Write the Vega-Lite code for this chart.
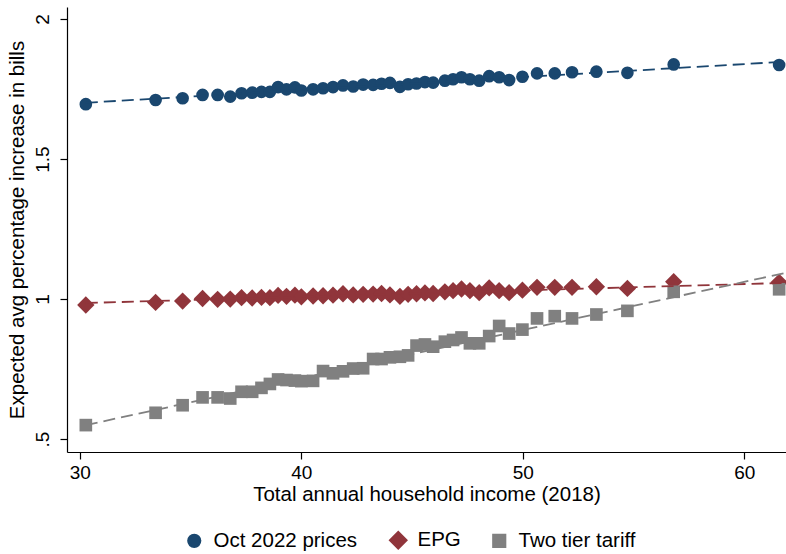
{
  "$schema": "https://vega.github.io/schema/vega-lite/v6.json",
  "width": 719,
  "height": 445,
  "autosize": {"type": "none"},
  "padding": {"left": 67, "top": 7, "right": 0, "bottom": 102},
  "background": "white",
  "config": {
    "view": {"stroke": null},
    "font": "Liberation Sans",
    "axis": {
      "grid": false,
      "domainColor": "black",
      "domainWidth": 1.2,
      "tickColor": "black",
      "tickWidth": 1.2,
      "tickSize": 7,
      "labelColor": "black",
      "titleColor": "black",
      "titleFontWeight": "normal",
      "labelFont": "Liberation Sans",
      "titleFont": "Liberation Sans"
    }
  },
  "datasets": {
    "bins": [
      {"income": 30.27, "Oct 2022 prices": 1.696, "EPG": 0.979, "Two tier tariff": 0.550},
      {"income": 33.42, "Oct 2022 prices": 1.711, "EPG": 0.988, "Two tier tariff": 0.594},
      {"income": 34.64, "Oct 2022 prices": 1.717, "EPG": 0.993, "Two tier tariff": 0.621},
      {"income": 35.54, "Oct 2022 prices": 1.729, "EPG": 1.002, "Two tier tariff": 0.649},
      {"income": 36.22, "Oct 2022 prices": 1.729, "EPG": 0.999, "Two tier tariff": 0.649},
      {"income": 36.79, "Oct 2022 prices": 1.723, "EPG": 1.000, "Two tier tariff": 0.645},
      {"income": 37.30, "Oct 2022 prices": 1.735, "EPG": 1.005, "Two tier tariff": 0.669},
      {"income": 37.78, "Oct 2022 prices": 1.737, "EPG": 1.004, "Two tier tariff": 0.669},
      {"income": 38.20, "Oct 2022 prices": 1.740, "EPG": 1.006, "Two tier tariff": 0.683},
      {"income": 38.58, "Oct 2022 prices": 1.740, "EPG": 1.005, "Two tier tariff": 0.697},
      {"income": 38.95, "Oct 2022 prices": 1.757, "EPG": 1.013, "Two tier tariff": 0.713},
      {"income": 39.33, "Oct 2022 prices": 1.749, "EPG": 1.010, "Two tier tariff": 0.711},
      {"income": 39.71, "Oct 2022 prices": 1.756, "EPG": 1.014, "Two tier tariff": 0.709},
      {"income": 40.00, "Oct 2022 prices": 1.745, "EPG": 1.008, "Two tier tariff": 0.707},
      {"income": 40.53, "Oct 2022 prices": 1.749, "EPG": 1.011, "Two tier tariff": 0.708},
      {"income": 40.98, "Oct 2022 prices": 1.753, "EPG": 1.012, "Two tier tariff": 0.743},
      {"income": 41.43, "Oct 2022 prices": 1.757, "EPG": 1.014, "Two tier tariff": 0.735},
      {"income": 41.88, "Oct 2022 prices": 1.763, "EPG": 1.019, "Two tier tariff": 0.742},
      {"income": 42.34, "Oct 2022 prices": 1.759, "EPG": 1.015, "Two tier tariff": 0.752},
      {"income": 42.79, "Oct 2022 prices": 1.766, "EPG": 1.017, "Two tier tariff": 0.753},
      {"income": 43.24, "Oct 2022 prices": 1.765, "EPG": 1.018, "Two tier tariff": 0.786},
      {"income": 43.62, "Oct 2022 prices": 1.769, "EPG": 1.020, "Two tier tariff": 0.786},
      {"income": 44.00, "Oct 2022 prices": 1.772, "EPG": 1.015, "Two tier tariff": 0.792},
      {"income": 44.45, "Oct 2022 prices": 1.758, "EPG": 1.010, "Two tier tariff": 0.794},
      {"income": 44.82, "Oct 2022 prices": 1.767, "EPG": 1.017, "Two tier tariff": 0.799},
      {"income": 45.20, "Oct 2022 prices": 1.770, "EPG": 1.019, "Two tier tariff": 0.834},
      {"income": 45.58, "Oct 2022 prices": 1.775, "EPG": 1.022, "Two tier tariff": 0.838},
      {"income": 45.95, "Oct 2022 prices": 1.773, "EPG": 1.020, "Two tier tariff": 0.830},
      {"income": 46.48, "Oct 2022 prices": 1.780, "EPG": 1.026, "Two tier tariff": 0.848},
      {"income": 46.85, "Oct 2022 prices": 1.785, "EPG": 1.030, "Two tier tariff": 0.854},
      {"income": 47.23, "Oct 2022 prices": 1.792, "EPG": 1.036, "Two tier tariff": 0.863},
      {"income": 47.61, "Oct 2022 prices": 1.785, "EPG": 1.030, "Two tier tariff": 0.842},
      {"income": 48.03, "Oct 2022 prices": 1.780, "EPG": 1.023, "Two tier tariff": 0.842},
      {"income": 48.48, "Oct 2022 prices": 1.796, "EPG": 1.040, "Two tier tariff": 0.868},
      {"income": 48.93, "Oct 2022 prices": 1.792, "EPG": 1.030, "Two tier tariff": 0.904},
      {"income": 49.38, "Oct 2022 prices": 1.782, "EPG": 1.023, "Two tier tariff": 0.877},
      {"income": 49.98, "Oct 2022 prices": 1.794, "EPG": 1.032, "Two tier tariff": 0.891},
      {"income": 50.64, "Oct 2022 prices": 1.806, "EPG": 1.042, "Two tier tariff": 0.931},
      {"income": 51.44, "Oct 2022 prices": 1.806, "EPG": 1.042, "Two tier tariff": 0.939},
      {"income": 52.22, "Oct 2022 prices": 1.810, "EPG": 1.042, "Two tier tariff": 0.931},
      {"income": 53.32, "Oct 2022 prices": 1.812, "EPG": 1.044, "Two tier tariff": 0.945},
      {"income": 54.72, "Oct 2022 prices": 1.808, "EPG": 1.038, "Two tier tariff": 0.958},
      {"income": 56.81, "Oct 2022 prices": 1.838, "EPG": 1.062, "Two tier tariff": 1.026},
      {"income": 61.57, "Oct 2022 prices": 1.836, "EPG": 1.060, "Two tier tariff": 1.035}
    ],
    "fits": [
      {"series": "Oct 2022 prices", "income": 30.27, "fit": 1.701},
      {"series": "Oct 2022 prices", "income": 61.88, "fit": 1.848},
      {"series": "EPG", "income": 30.27, "fit": 0.986},
      {"series": "EPG", "income": 61.88, "fit": 1.058},
      {"series": "Two tier tariff", "income": 30.27, "fit": 0.550},
      {"series": "Two tier tariff", "income": 61.88, "fit": 1.094}
    ]
  },
  "layer": [
    {
      "data": {"name": "bins"},
      "transform": [
        {"fold": ["Oct 2022 prices", "EPG", "Two tier tariff"], "as": ["series", "value"]}
      ],
      "mark": {"type": "point", "filled": true, "opacity": 1},
      "encoding": {
        "x": {
          "field": "income", "type": "quantitative",
          "scale": {"domain": [29.42, 61.88], "nice": false, "zero": false},
          "axis": {
            "values": [30, 40, 50, 60],
            "title": "Total annual household income (2018)",
            "titleFontSize": 20.5,
            "labelFontSize": 19,
            "labelPadding": 4,
            "titlePadding": 2
          }
        },
        "y": {
          "field": "value", "type": "quantitative",
          "scale": {"domain": [0.454, 2.043], "nice": false, "zero": false},
          "axis": {
            "values": [0.5, 1, 1.5, 2],
            "format": "~g",
            "labelExpr": "datum.value == 0.5 ? '.5' : datum.label",
            "title": "Expected avg percentage increase in bills",
            "titleFontSize": 20.5,
            "labelFontSize": 19,
            "labelAngle": -90,
            "labelAlign": "center",
            "labelBaseline": "bottom",
            "labelPadding": 8,
            "titlePadding": 6
          }
        },
        "color": {
          "field": "series", "type": "nominal",
          "scale": {"domain": ["Oct 2022 prices", "EPG", "Two tier tariff"], "range": ["#1a476f", "#90353b", "#808080"]},
          "legend": {
            "title": null,
            "orient": "none",
            "direction": "horizontal",
            "legendX": 117,
            "legendY": 523,
            "labelFontSize": 20.5,
            "labelColor": "black",
            "symbolSize": 110,
            "symbolOpacity": 1,
            "labelOffset": 9,
            "columnPadding": 28
          }
        },
        "shape": {
          "field": "series", "type": "nominal",
          "scale": {"domain": ["Oct 2022 prices", "EPG", "Two tier tariff"], "range": ["circle", "diamond", "square"]}
        },
        "size": {
          "field": "series", "type": "nominal",
          "scale": {"type": "ordinal", "domain": ["Oct 2022 prices", "EPG", "Two tier tariff"], "range": [160, 300, 160]},
          "legend": null
        }
      }
    },
    {
      "data": {"name": "fits"},
      "mark": {"type": "line", "strokeDash": [12, 6], "strokeWidth": 1.8, "clip": true},
      "encoding": {
        "x": {"field": "income", "type": "quantitative"},
        "y": {"field": "fit", "type": "quantitative"},
        "stroke": {
          "field": "series", "type": "nominal",
          "scale": {"domain": ["Oct 2022 prices", "EPG", "Two tier tariff"], "range": ["#1a476f", "#90353b", "#808080"]},
          "legend": null
        },
        "detail": {"field": "series", "type": "nominal"}
      }
    }
  ]
}
